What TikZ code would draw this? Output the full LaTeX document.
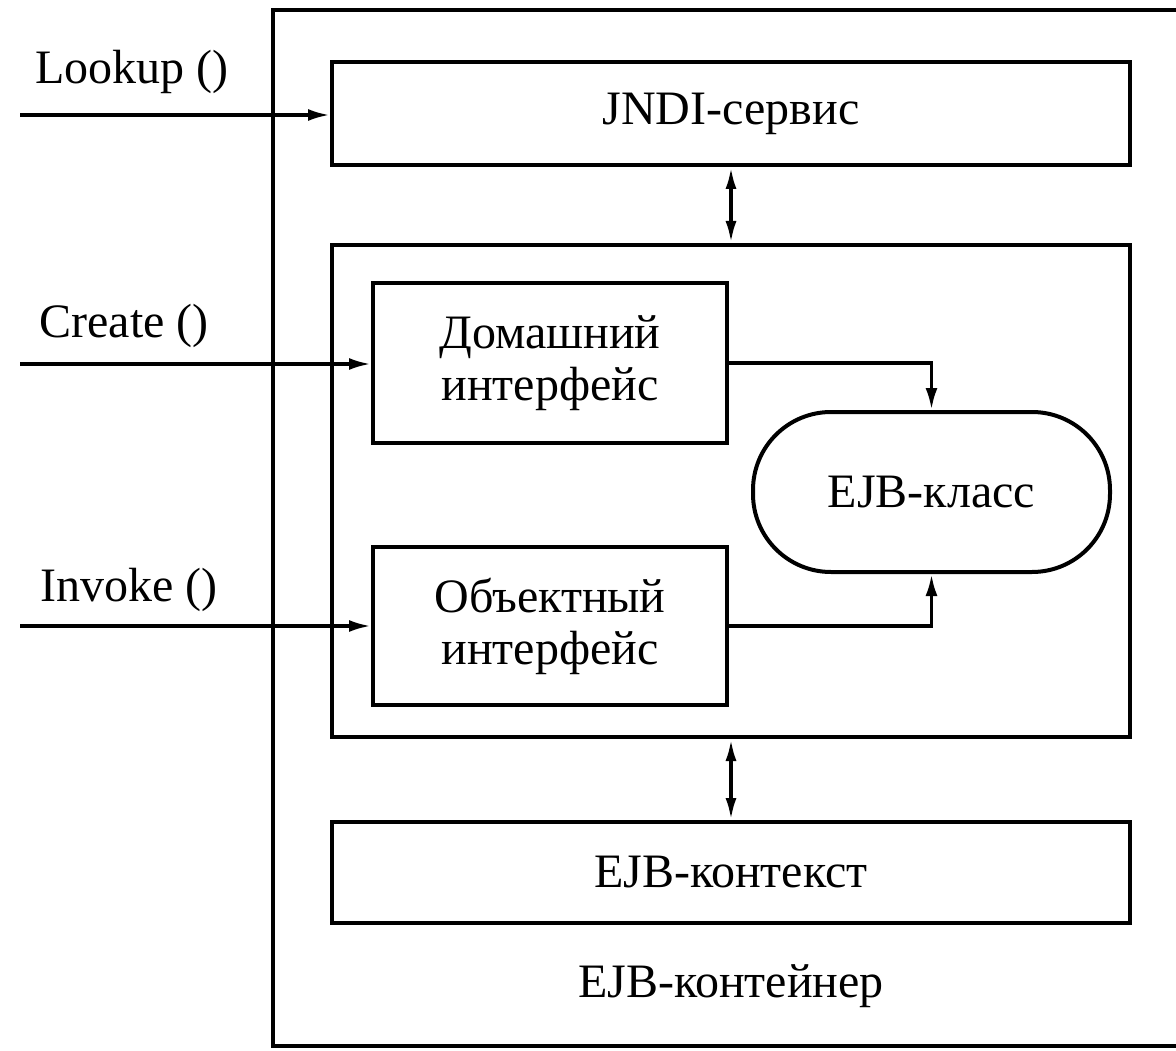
\documentclass[tikz,border=0pt]{standalone}
\usepackage{fontspec}
\setmainfont{Liberation Serif}
\usetikzlibrary{arrows.meta}
\tikzset{
  box/.style={draw, line width=4pt, rectangle, inner sep=0pt, align=center,
    font=\fontsize{48pt}{52pt}\selectfont},
  lbl/.style={inner sep=0pt, font=\fontsize{48pt}{52pt}\selectfont},
  conn/.style={line width=3.5pt, -{Latex[length=22pt,width=12pt]}},
  dconn/.style={line width=3.5pt, {Latex[length=22pt,width=11pt]}-{Latex[length=22pt,width=11pt]}}
}
\begin{document}
\begin{tikzpicture}[x=1pt,y=-1pt]
\useasboundingbox (0,0) rectangle (1176,1051);
\clip (0,0) rectangle (1176,1051);
% outer container
\coordinate (otr) at (1200,10);
\coordinate (otl) at (273,10);
\coordinate (obl) at (273,1046);
\coordinate (obr) at (1200,1046);
\draw[line width=4pt] (otr) -- (otl) -- (obl) -- (obr);
\node[lbl] (cont) at (731,986) {EJB-контейнер};
% boxes
\node[box, minimum width=798pt, minimum height=103pt] (jndi) at (731,113.5) {JNDI-сервис};
\node[box, minimum width=798pt, minimum height=492pt] (mid) at (731,491) {};
\node[box, minimum width=354pt, minimum height=160pt] (dom) at (550,363) {Домашний\\интерфейс};
\node[box, minimum width=354pt, minimum height=158pt] (obj) at (550,626) {Объектный\\интерфейс};
\node[box, rounded corners=78pt, minimum width=357pt, minimum height=160pt] (cls) at (931.5,492) {EJB-класс};
\node[box, minimum width=798pt, minimum height=101pt] (ctx) at (731,872.5) {EJB-контекст};
% inputs
\coordinate (lk) at (20,115);
\coordinate (cr) at (20,364);
\coordinate (iv) at (20,626);
\node[lbl] (lklbl) at (132,72) {Lookup ()};
\node[lbl] (crlbl) at (124,326) {Create ()};
\node[lbl] (ivlbl) at (129,590) {Invoke ()};
\draw[conn] (lk) -- (lk -| jndi.west);
\draw[conn] (cr) -- (cr -| dom.west);
\draw[conn] (iv) -- (iv -| obj.west);
% internal
\draw[conn] (dom.east) -| (cls.north);
\draw[conn] (obj.east) -| (cls.south);
\draw[dconn] (jndi.south) -- (mid.north);
\draw[dconn] (mid.south) -- (ctx.north);
\end{tikzpicture}
\end{document}
